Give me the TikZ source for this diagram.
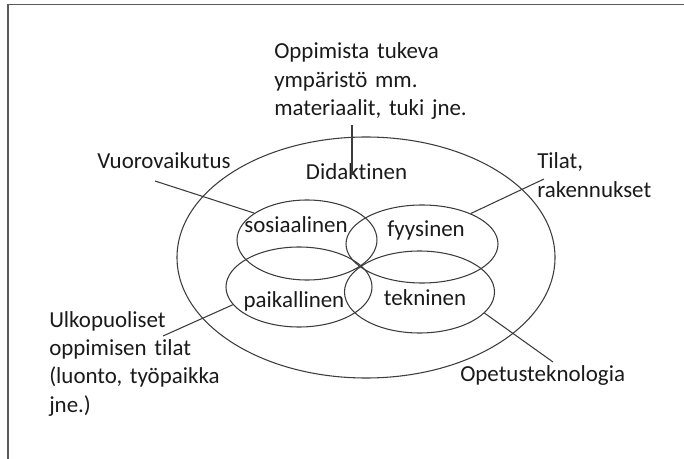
\documentclass[tikz,border=0pt]{standalone}
\usepackage{fontspec}
\setmainfont{Carlito}[Ligatures=NoCommon]
\usepackage{tikz}
\usetikzlibrary{shapes.geometric}
\definecolor{ink}{HTML}{1A1A1A}
\definecolor{wire}{HTML}{3C3C3C}
\definecolor{edge}{HTML}{5A5A5A}

\begin{document}
\begin{tikzpicture}[x=0.75pt,y=-0.75pt,font=\fontsize{17.2pt}{21.3pt}\selectfont,text=ink,
  lbl/.style={inner sep=0pt,anchor=base west},
  ring/.style={draw=wire,line width=0.8pt,ellipse,inner sep=0pt},
  conn/.style={draw=wire,line width=0.8pt}]
\useasboundingbox (0,0) rectangle (684,459);
\draw[edge,line width=1.2pt] (8,459) -- (8,4.5) -- (684,4.5);
% ellipses
\node[ring,minimum width=283.5pt,minimum height=180.75pt] (outer) at (366,257.5) {};
\node[ring,minimum width=105pt,minimum height=60pt] (sos) at (307,240) {};
\node[ring,minimum width=114pt,minimum height=58.5pt] (fyy) at (422,244) {};
\node[ring,minimum width=109.5pt,minimum height=60pt] (pai) at (299,287) {};
\node[ring,minimum width=112.5pt,minimum height=61.5pt] (tek) at (419.5,292) {};
% labels
\node[lbl,anchor=base] (didak) at (356.5,180) {Didaktinen};
\node[lbl,anchor=base] (sosl) at (296,233) {sosiaalinen};
\node[lbl,anchor=base] (fyyl) at (426,237) {fyysinen};
\node[lbl,anchor=base] (pail) at (294,307) {paikallinen};
\node[lbl,anchor=base] (tekl) at (425,305) {tekninen};
\node[lbl,text width=150pt,align=left] (tukeva) at (274,59) {Oppimista tukeva\\ympäristö mm.\\materiaalit, tuki jne.};
\node[lbl] (vuoro) at (97,169) {Vuorovaikutus};
\node[lbl,text width=94pt,align=left] (tilat) at (537,169) {Tilat,\\rakennukset};
\node[lbl,text width=139pt,align=left] (ulko) at (49,327) {Ulkopuoliset\\oppimisen tilat\\(luonto, työpaikka\\jne.)};
\node[lbl] (opet) at (460,381) {Opetusteknologia};
% connectors
\coordinate (dtip) at (352,175);
\draw[conn,shorten <=4pt] (tukeva.south -| dtip) -- (dtip);
\draw[conn] ([shift={(58,12)}]vuoro.base west) -- (sos.153);
\draw[conn] ([shift={(7,10)}]tilat.base west) -- (fyy.32);
\draw[conn] ([shift={(114,9)}]ulko.base west) -- (pai.195);
\draw[conn] ([shift={(93,-19)}]opet.base west) -- (tek.342);
\end{tikzpicture}
\end{document}
